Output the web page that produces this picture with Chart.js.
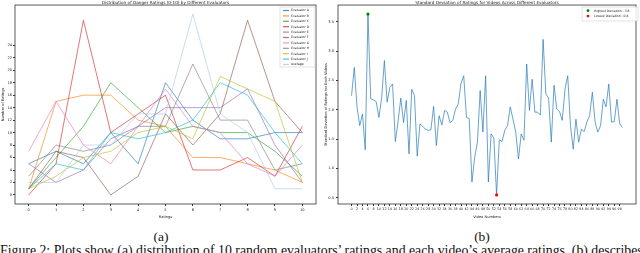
<!DOCTYPE html>
<html>
<head>
<meta charset="utf-8">
<script src="https://cdn.jsdelivr.net/npm/chart.js@4"></script>
<style>
body{margin:0;background:#fff;width:640px;height:253px;overflow:hidden;position:relative;font-family:"Liberation Serif","Times New Roman",serif;color:#111}
canvas{position:absolute;top:0}
#left{left:0}
#right{left:320px}
.sub{position:absolute;top:229px;font-size:13.5px;transform:translateX(-50%)}
#cap{position:absolute;left:0;top:243px;font-size:13.8px;white-space:nowrap}
</style>
</head>
<body>
<canvas id="left" width="320" height="222"></canvas>
<canvas id="right" width="320" height="222"></canvas>
<div class="sub" style="left:161px">(a)</div>
<div class="sub" style="left:482px">(b)</div>
<div id="cap">Figure 2: Plots show (a) distribution of 10 random evaluators’ ratings and each video’s average ratings. (b) describes</div>
<script>
// ---- (a) ratings per evaluator ----
var ratings = [0, 1, 2, 3, 4, 5, 6, 7, 8, 9, 10];
var evalA = [5, 7, 5, 10, 5, 18, 12, 9, 9, 10, 10];
var evalB = [1, 15, 16, 16, 12, 11, 6, 6, 5, 4, 2];
var evalC = [1, 6, 11, 18, 14, 10, 11, 10, 10, 7, 3];
var evalD = [0, 5, 28, 10, 13, 16, 4, 4, 6, 3, 11];
var evalE = [5, 2, 4, 9, 11, 14, 14, 14, 17, 8, 2];
var evalF = [1, 7, 6, 0, 3, 13, 8, 13, 28, 15, 10];
var evalG = [7, 15, 8, 5, 11, 17, 11, 10, 5, 3, 8];
var evalH = [3, 8, 7, 8, 11, 11, 21, 12, 12, 4, 5];
var evalI = [1, 3, 6, 7, 10, 11, 9, 19, 17, 15, 2];
var evalJ = [1, 5, 4, 10, 9, 10, 12, 18, 16, 10, 5];
var average = [2, 2, 8, 8, 13, 13, 29, 13, 10, 1, 1];
var seriesNames = ['Evaluator A', 'Evaluator B', 'Evaluator C', 'Evaluator D', 'Evaluator E',
  'Evaluator F', 'Evaluator G', 'Evaluator H', 'Evaluator I', 'Evaluator J', 'Average'];
var countTicks = [0, 2, 4, 6, 8, 10, 12, 14, 16, 18, 20, 22, 24];

// ---- (b) std deviation per video ----
var stdDev = [2.24, 2.72, 2.05, 1.73, 1.93, 1.32, 3.63, 2.19, 2.17, 2.14,
  1.87, 2.2, 2.84, 2.13, 2.38, 2.44, 1.46, 1.8, 2.2, 1.78,
  2.16, 1.25, 2.35, 2.24, 1.21, 1.76, 1.72, 1.67, 1.65, 1.66,
  2.06, 1.39, 1.9, 1.74, 1.99, 1.96, 1.78, 1.82, 2.01, 2.1,
  2.45, 2.58, 1.87, 1.85, 0.77, 1.19, 1.45, 2.33, 1.62, 2.58,
  0.77, 1.59, 1.52, 0.55, 1.49, 1.46, 1.65, 1.73, 2.05, 1.84,
  1.62, 1.16, 1.59, 1.48, 2.78, 1.99, 2.52, 1.96, 1.96, 1.91,
  3.2, 2.27, 2.2, 1.45, 2.42, 2.01, 1.97, 1.82, 2.35, 2.58,
  1.73, 1.33, 1.84, 1.45, 1.67, 1.63, 1.79, 1.9, 2.3, 1.79,
  1.62, 1.73, 2.18, 2.05, 2.44, 1.79, 1.8, 2.18, 1.76, 1.7];
var videoTicks = [0, 2, 4, 6, 8, 10, 12, 14, 16, 18, 20, 22, 24, 26, 28, 30, 32, 34, 36, 38,
  40, 42, 44, 46, 48, 50, 52, 54, 56, 58, 60, 62, 64, 66, 68, 70, 72, 74, 76, 78,
  80, 82, 84, 86, 88, 90, 92, 94, 96, 98];
var stdTicks = [0.5, 1.0, 1.5, 2.0, 2.5, 3.0, 3.5];

var colors = ['#1f77b4', '#ff7f0e', '#2ca02c', '#d62728', '#9467bd', '#8c564b',
  '#e377c2', '#7f7f7f', '#bcbd22', '#17becf', '#aec7e8'];
var FONT = '"DejaVu Sans", sans-serif';

function pts(xs, ys) { return ys.map(function (v, i) { return { x: xs[i], y: v }; }); }
function setTicks(list) { return function (s) { s.ticks = list.map(function (v) { return { value: v }; }); }; }
function fade(hex, a) {
  var n = parseInt(hex.slice(1), 16);
  return 'rgba(' + (n >> 16) + ',' + ((n >> 8) & 255) + ',' + (n & 255) + ',' + a + ')';
}

var framePlugin = {
  id: 'frame',
  afterDatasetsDraw: function (chart) {
    var a = chart.chartArea, c = chart.ctx;
    c.save();
    c.strokeStyle = '#333'; c.lineWidth = 0.8;
    c.strokeRect(a.left, a.top, a.right - a.left, a.bottom - a.top);
    c.restore();
  }
};

var boxLegend = {
  id: 'boxLegend',
  afterDraw: function (chart, args, o) {
    if (!o.items) return;
    var c = chart.ctx;
    c.save();
    c.fillStyle = 'rgba(255,255,255,0.85)';
    c.strokeStyle = '#d0d0d0'; c.lineWidth = 0.6;
    c.fillRect(o.x, o.y, o.w, o.h);
    c.strokeRect(o.x, o.y, o.w, o.h);
    c.font = o.fontSize + 'px ' + FONT;
    c.textBaseline = 'middle';
    o.items.forEach(function (it, i) {
      var y = o.y + o.top + i * o.rowH;
      if (it.dot) {
        c.fillStyle = it.color;
        c.beginPath(); c.arc(o.x + o.markX, y, 1.4, 0, Math.PI * 2); c.fill();
      } else {
        c.strokeStyle = it.color; c.lineWidth = 1.2;
        c.beginPath(); c.moveTo(o.x + o.markX - 3, y); c.lineTo(o.x + o.markX + 3, y); c.stroke();
      }
      c.fillStyle = '#222';
      c.fillText(it.label, o.x + o.textX, y);
    });
    c.restore();
  }
};

var tickFont = { family: FONT, size: 3.6 };
var titleFont = { family: FONT, size: 3.6 };

// ---------- chart (a) ----------
var leftSets = [evalA, evalB, evalC, evalD, evalE, evalF, evalG, evalH, evalI, evalJ, average].map(function (s, i) {
  return {
    label: seriesNames[i], data: pts(ratings, s), borderColor: fade(colors[i], 0.8),
    borderWidth: 0.8, pointRadius: 0, tension: 0, order: 20 - i
  };
});

new Chart(document.getElementById('left'), {
  type: 'line',
  data: { datasets: leftSets },
  options: {
    responsive: false, animation: false, devicePixelRatio: 1,
    layout: { padding: { right: 4 } },
    plugins: {
      legend: { display: false }, tooltip: { enabled: false },
      title: { display: true, fullSize: false, text: 'Distribution of Danger Ratings (0-10) by Different Evaluators',
        color: '#222', font: { family: FONT, size: 4.2, weight: 'normal', lineHeight: 1.2 }, padding: { top: 0, bottom: 0 } },
      boxLegend: {
        x: 280, y: 7, w: 35, h: 60, top: 3.5, rowH: 5.4, markX: 6, textX: 11, fontSize: 3.1,
        items: seriesNames.map(function (n, i) { return { label: n, color: fade(colors[i], 0.8) }; })
      }
    },
    scales: {
      x: {
        type: 'linear', min: -0.5, max: 10.5,
        afterBuildTicks: setTicks(ratings),
        afterFit: function (s) { s.height = 18; },
        grid: { drawOnChartArea: false, tickLength: 2, color: '#333' }, border: { display: false },
        ticks: { font: tickFont, color: '#222', padding: 1.5, autoSkip: false, maxRotation: 0, minRotation: 0 },
        title: { display: true, text: 'Ratings', font: titleFont, color: '#222', padding: { top: 0, bottom: 3 } }
      },
      y: {
        type: 'linear', min: -1.45, max: 30.45,
        afterBuildTicks: setTicks(countTicks),
        afterFit: function (s) { s.width = 15; },
        grid: { drawOnChartArea: false, tickLength: 2, color: '#333' }, border: { display: false },
        ticks: { font: tickFont, color: '#222', padding: 1 },
        title: { display: true, text: 'Number of Ratings', font: titleFont, color: '#222', padding: { top: 1, bottom: 0 } }
      }
    }
  },
  plugins: [framePlugin, boxLegend]
});

// ---------- chart (b) ----------
var videoIds = stdDev.map(function (v, i) { return i; });
var hiVal = Math.max.apply(null, stdDev), loVal = Math.min.apply(null, stdDev);
var hiIdx = stdDev.indexOf(hiVal), loIdx = stdDev.indexOf(loVal);
var pad = (hiVal - loVal) * 0.05;

new Chart(document.getElementById('right'), {
  type: 'line',
  data: {
    datasets: [
      { label: 'Highest', data: [{ x: hiIdx, y: hiVal }], showLine: false, pointRadius: 1.6,
        pointBackgroundColor: 'green', pointBorderWidth: 0, order: 0 },
      { label: 'Lowest', data: [{ x: loIdx, y: loVal }], showLine: false, pointRadius: 1.6,
        pointBackgroundColor: 'red', pointBorderWidth: 0, order: 1 },
      { label: 'Std', data: pts(videoIds, stdDev), borderColor: 'rgba(31,119,180,0.85)', borderWidth: 0.8,
        pointRadius: 0, tension: 0, order: 2 }
    ]
  },
  options: {
    responsive: false, animation: false, devicePixelRatio: 1,
    layout: { padding: { right: 2 } },
    plugins: {
      legend: { display: false }, tooltip: { enabled: false },
      title: { display: true, fullSize: false, text: 'Standard Deviation of Ratings for Videos Across Different Evaluators',
        color: '#222', font: { family: FONT, size: 4.2, weight: 'normal', lineHeight: 1.2 }, padding: { top: 0, bottom: 0 } },
      boxLegend: {
        x: 262, y: 7, w: 56, h: 14, top: 3.7, rowH: 5.4, markX: 6, textX: 12, fontSize: 3.1,
        items: [
          { label: 'Highest Deviation : ' + hiVal.toFixed(1), color: 'green', dot: true },
          { label: 'Lowest Deviation : ' + loVal.toFixed(1), color: 'red', dot: true }
        ]
      }
    },
    scales: {
      x: {
        type: 'linear', min: -(videoIds.length - 1) * 0.05, max: (videoIds.length - 1) * 1.05,
        afterBuildTicks: setTicks(videoTicks),
        afterFit: function (s) { s.height = 18; },
        grid: { drawOnChartArea: false, tickLength: 2, color: '#333' }, border: { display: false },
        ticks: { font: { family: FONT, size: 3.3 }, color: '#222', padding: 1.5, autoSkip: false, maxRotation: 0, minRotation: 0 },
        title: { display: true, text: 'Video Numbers', font: titleFont, color: '#222', padding: { top: 0, bottom: 3 } }
      },
      y: {
        type: 'linear', min: loVal - pad, max: hiVal + pad,
        afterBuildTicks: setTicks(stdTicks),
        afterFit: function (s) { s.width = 18; },
        grid: { drawOnChartArea: false, tickLength: 2, color: '#333' }, border: { display: false },
        ticks: { font: tickFont, color: '#222', padding: 2, callback: function (v) { return v.toFixed(1); } },
        title: { display: true, text: 'Standard Deviation of Ratings for Each Videos', font: titleFont, color: '#222', padding: { top: 4, bottom: 0 } }
      }
    }
  },
  plugins: [framePlugin, boxLegend]
});
</script>
</body>
</html>
